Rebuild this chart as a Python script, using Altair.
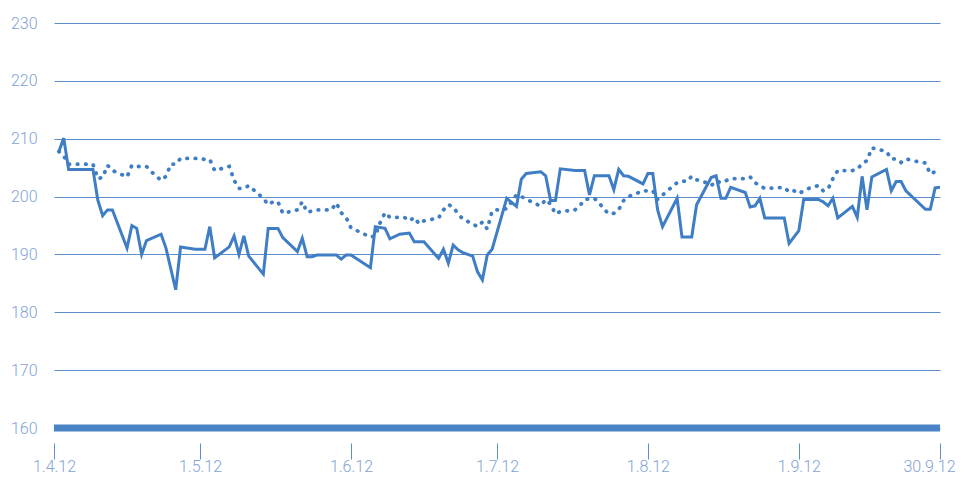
import altair as alt
import pandas as pd

solid_dates = [
    "2012-04-02", "2012-04-03", "2012-04-04", "2012-04-09", "2012-04-10", "2012-04-11", "2012-04-12",
    "2012-04-13", "2012-04-16", "2012-04-17", "2012-04-18", "2012-04-19", "2012-04-20", "2012-04-23",
    "2012-04-24", "2012-04-26", "2012-04-27", "2012-04-30", "2012-05-02", "2012-05-03", "2012-05-04",
    "2012-05-07", "2012-05-08", "2012-05-09", "2012-05-10", "2012-05-11", "2012-05-14", "2012-05-15",
    "2012-05-17", "2012-05-18", "2012-05-21", "2012-05-22", "2012-05-23", "2012-05-24", "2012-05-25",
    "2012-05-29", "2012-05-30", "2012-05-31", "2012-06-01", "2012-06-05", "2012-06-06", "2012-06-08",
    "2012-06-09", "2012-06-11", "2012-06-13", "2012-06-14", "2012-06-16", "2012-06-19", "2012-06-20",
    "2012-06-21", "2012-06-22", "2012-06-23", "2012-06-24", "2012-06-26", "2012-06-27", "2012-06-28",
    "2012-06-29", "2012-06-30", "2012-07-03", "2012-07-05", "2012-07-06", "2012-07-07", "2012-07-10",
    "2012-07-11", "2012-07-12", "2012-07-13", "2012-07-14", "2012-07-17", "2012-07-19", "2012-07-20",
    "2012-07-21", "2012-07-24", "2012-07-25", "2012-07-26", "2012-07-27", "2012-07-28", "2012-07-31",
    "2012-08-01", "2012-08-02", "2012-08-03", "2012-08-04", "2012-08-07", "2012-08-08", "2012-08-10",
    "2012-08-11", "2012-08-14", "2012-08-15", "2012-08-16", "2012-08-17", "2012-08-18", "2012-08-21",
    "2012-08-22", "2012-08-23", "2012-08-24", "2012-08-25", "2012-08-29", "2012-08-30", "2012-09-01",
    "2012-09-02", "2012-09-05", "2012-09-06", "2012-09-07", "2012-09-08", "2012-09-09", "2012-09-12",
    "2012-09-13", "2012-09-14", "2012-09-15", "2012-09-16", "2012-09-19", "2012-09-20", "2012-09-21",
    "2012-09-22", "2012-09-23", "2012-09-27", "2012-09-28", "2012-09-29", "2012-09-30",
]
solid_values = [
    207.8, 210.1, 204.7, 204.7, 199.4, 196.7, 197.7,
    197.7, 191.1, 195.0, 194.5, 190.0, 192.4, 193.5,
    191.1, 183.9, 191.3, 190.9, 190.9, 194.8, 189.4,
    191.3, 193.2, 190.0, 193.2, 189.7, 186.6, 194.5,
    194.5, 192.9, 190.5, 192.8, 189.6, 189.6, 189.9,
    189.9, 189.2, 189.9, 189.9, 187.7, 194.8, 194.5,
    192.7, 193.5, 193.7, 192.2, 192.2, 189.3, 190.9,
    188.5, 191.6, 190.8, 190.3, 189.7, 187.0, 185.6,
    189.9, 190.9, 199.7, 198.3, 203.0, 204.0, 204.3,
    203.6, 199.3, 199.3, 204.8, 204.5, 204.5, 200.3,
    203.6, 203.6, 201.2, 204.7, 203.6, 203.5, 202.2,
    204.0, 204.0, 197.7, 194.8, 199.7, 193.0, 193.0,
    198.6, 203.3, 203.6, 199.7, 199.7, 201.6, 200.7,
    198.2, 198.4, 199.7, 196.3, 196.3, 191.9, 194.1,
    199.5, 199.5, 199.1, 198.4, 199.7, 196.3, 198.3,
    196.4, 203.5, 197.7, 203.4, 204.7, 201.0, 202.6,
    202.6, 201.0, 197.8, 197.8, 201.5, 201.6,
]

dot_dates = [
    "2012-04-02", "2012-04-03", "2012-04-04", "2012-04-09", "2012-04-10", "2012-04-11", "2012-04-12",
    "2012-04-13", "2012-04-16", "2012-04-17", "2012-04-18", "2012-04-20", "2012-04-21", "2012-04-23",
    "2012-04-24", "2012-04-25", "2012-04-26", "2012-04-27", "2012-05-01", "2012-05-02", "2012-05-03",
    "2012-05-04", "2012-05-07", "2012-05-08", "2012-05-09", "2012-05-10", "2012-05-11", "2012-05-14",
    "2012-05-15", "2012-05-16", "2012-05-17", "2012-05-18", "2012-05-21", "2012-05-22", "2012-05-23",
    "2012-05-25", "2012-05-28", "2012-05-29", "2012-05-30", "2012-05-31", "2012-06-01", "2012-06-03",
    "2012-06-05", "2012-06-06", "2012-06-07", "2012-06-08", "2012-06-09", "2012-06-12", "2012-06-13",
    "2012-06-14", "2012-06-15", "2012-06-16", "2012-06-19", "2012-06-20", "2012-06-21", "2012-06-22",
    "2012-06-23", "2012-06-24", "2012-06-26", "2012-06-27", "2012-06-28", "2012-06-29", "2012-06-30",
    "2012-07-01", "2012-07-03", "2012-07-05", "2012-07-06", "2012-07-09", "2012-07-10", "2012-07-11",
    "2012-07-12", "2012-07-13", "2012-07-14", "2012-07-17", "2012-07-18", "2012-07-19", "2012-07-21",
    "2012-07-22", "2012-07-23", "2012-07-24", "2012-07-25", "2012-07-26", "2012-07-27", "2012-07-28",
    "2012-07-31", "2012-08-02", "2012-08-03", "2012-08-05", "2012-08-06", "2012-08-07", "2012-08-08",
    "2012-08-09", "2012-08-10", "2012-08-11", "2012-08-13", "2012-08-14", "2012-08-15", "2012-08-16",
    "2012-08-18", "2012-08-21", "2012-08-22", "2012-08-23", "2012-08-25", "2012-08-29", "2012-08-30",
    "2012-08-31", "2012-09-01", "2012-09-02", "2012-09-03", "2012-09-05", "2012-09-06", "2012-09-07",
    "2012-09-08", "2012-09-09", "2012-09-12", "2012-09-13", "2012-09-14", "2012-09-15", "2012-09-16",
    "2012-09-19", "2012-09-20", "2012-09-21", "2012-09-22", "2012-09-23", "2012-09-25", "2012-09-27",
    "2012-09-28", "2012-09-29", "2012-09-30",
]
dot_values = [
    207.8, 207.0, 205.6, 205.6, 203.1, 203.3, 205.4,
    204.5, 203.4, 205.4, 205.2, 205.2, 204.3, 202.8,
    203.5, 205.6, 205.6, 206.6, 206.6, 206.4, 206.4,
    204.5, 205.2, 202.8, 201.4, 201.4, 201.9, 199.7,
    198.6, 199.1, 199.1, 197.1, 197.7, 199.1, 197.3,
    197.7, 197.7, 198.9, 197.2, 196.4, 194.6, 193.8,
    193.0, 193.2, 195.5, 197.2, 196.4, 196.4, 195.8,
    196.4, 195.3, 195.8, 196.3, 197.7, 198.6, 198.2,
    197.0, 196.1, 195.3, 194.8, 195.6, 194.4, 197.5,
    197.7, 197.9, 200.3, 200.0, 198.7, 198.4, 199.5,
    198.7, 197.0, 197.4, 197.7, 198.4, 199.5, 199.7,
    198.9, 197.8, 197.0, 197.1, 197.7, 199.3, 200.0,
    201.0, 201.0, 199.5, 201.0, 201.7, 202.4, 202.7,
    202.6, 203.5, 202.9, 202.4, 201.9, 202.7, 202.4,
    203.1, 203.1, 203.4, 202.4, 201.4, 201.6, 200.8,
    201.0, 200.5, 201.0, 201.4, 201.9, 201.0, 201.3,
    203.1, 204.5, 204.5, 204.7, 205.7, 206.2, 208.4,
    207.8, 206.5, 206.5, 205.9, 206.5, 206.1, 205.8,
    203.9, 204.3, 204.0,
]

y_ticks = [160, 170, 180, 190, 200, 210, 220, 230]
x_ticks = [(2012, 4, 1), (2012, 5, 1), (2012, 6, 1), (2012, 7, 1), (2012, 8, 1), (2012, 9, 1), (2012, 9, 30)]
base_value = [160]

W, H = 886, 405
LINE = "#3f7ec4"
GRID = "#5d8ecc"
LABEL = "#7fa3d6"

solid = pd.DataFrame({"date": solid_dates, "value": solid_values})
dotted = pd.DataFrame({"date": dot_dates, "value": dot_values})
base = pd.DataFrame({"value": base_value})


def dt(t):
    return alt.DateTime(year=t[0], month=t[1], date=t[2], utc=True)


xscale = alt.Scale(type="utc", domain=[dt(x_ticks[0]), dt(x_ticks[-1])])
yscale = alt.Scale(domain=[160, 230], nice=False, zero=False)

x_axis = alt.Axis(
    values=[dt(t) for t in x_ticks],
    format="%-d.%-m.%y",
    title=None,
    domain=False,
    grid=False,
    ticks=True,
    tickSize=16,
    tickColor=GRID,
    tickWidth=1,
    offset=15,
    labelBaseline="alphabetic",
    labelPadding=12,
    labelOffset={"expr": "datum.label == '30.9.12' ? -11 : 0"},
    labelFont="Roboto",
    labelFontWeight=300,
    labelFontSize=16,
    labelColor=LABEL,
    labelFlush=False,
    labelOverlap=False,
)
y_axis = alt.Axis(
    values=y_ticks,
    title=None,
    domain=False,
    ticks=False,
    tickSize=0,
    grid=True,
    gridColor=GRID,
    gridWidth=1,
    labelPadding=17,
    labelFont="Roboto",
    labelFontWeight=300,
    labelFontSize=16,
    labelColor=LABEL,
)

x_enc = alt.X("date:T", scale=xscale, axis=x_axis)
y_enc = alt.Y("value:Q", scale=yscale, axis=y_axis)

bar = alt.Chart(base).mark_rule(color="#4a84c6", strokeWidth=7, strokeCap="butt").encode(
    y=y_enc,
    x=alt.value(0),
    x2=alt.value(W),
)

solid_line = alt.Chart(solid).mark_line(
    color=LINE, strokeWidth=3, strokeJoin="miter", strokeMiterLimit=4
).encode(x=x_enc, y=y_enc)

dotted_line = alt.Chart(dotted).mark_line(
    color=LINE, strokeWidth=3.8, strokeCap="round", strokeDash=[0.5, 7.8]
).encode(x=x_enc, y=y_enc)

chart = (
    alt.layer(solid_line, dotted_line, bar)
    .properties(
        width=W,
        height=H,
        autosize=alt.AutoSizeParams(type="none"),
        padding={"left": 46, "top": 15, "right": 18, "bottom": 48},
        background="white",
    )
    .configure_view(stroke=None)
)

chart.save("out.html", embed_options={"renderer": "svg", "actions": False})
